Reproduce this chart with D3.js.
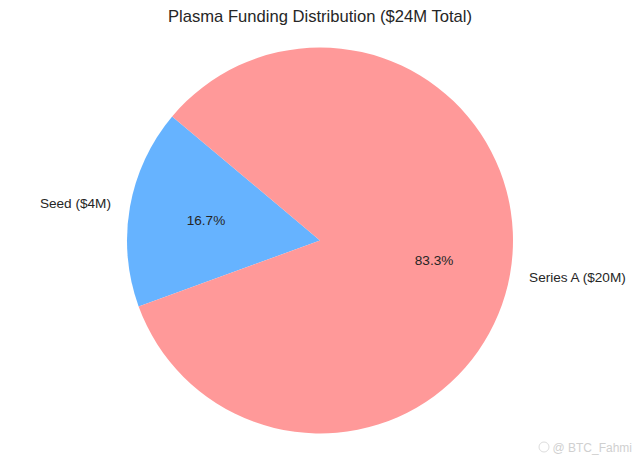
<!DOCTYPE html>
<html><head><meta charset="utf-8">
<script src="https://cdn.jsdelivr.net/npm/d3@7"></script>
<style>body{margin:0;background:#fff}svg{display:block;font-family:"Liberation Sans",Arial,sans-serif}</style>
</head><body><svg id="c" width="640" height="463"></svg>
<script>
const categories = ["Seed ($4M)", "Series A ($20M)"];
const values = [4, 20];
const colors = ["#66b3ff", "#ff9999"];
const title = "Plasma Funding Distribution ($24M Total)";

const svg = d3.select("#c");
const cx = 320, cy = 240.5, R = 193;
const startDeg = 140;
const total = d3.sum(values);
const pie = d3.pie().sort(null).value(d => d)
  .startAngle(-(startDeg - 90) * Math.PI / 180)
  .endAngle(-(startDeg - 90 + 360) * Math.PI / 180);
const arcs = pie(values);
const arc = d3.arc().innerRadius(0).outerRadius(R);
const g = svg.append("g").attr("transform", `translate(${cx},${cy})`);
g.selectAll("path").data(arcs).join("path")
  .attr("d", arc).attr("fill", (d, i) => colors[i]);

function mid(d) { return (d.startAngle + d.endAngle) / 2; }
arcs.forEach((d, i) => {
  const a = mid(d);
  const lx = Math.sin(a) * R * 1.1, ly = -Math.cos(a) * R * 1.1;
  g.append("text").attr("x", lx).attr("y", ly).attr("dy", "0.35em")
    .attr("text-anchor", lx < 0 ? "end" : "start")
    .attr("font-size", 13.6).attr("fill", "#262626").text(categories[i]);
  const px = Math.sin(a) * R * 0.6, py = -Math.cos(a) * R * 0.6;
  g.append("text").attr("x", px).attr("y", py).attr("dy", "0.35em")
    .attr("text-anchor", "middle").attr("font-size", 13.6).attr("fill", "#262626")
    .text((values[i] / total * 100).toFixed(1) + "%");
});

svg.append("text").attr("x", 320).attr("y", 22).attr("text-anchor", "middle")
  .attr("font-size", 16.6).attr("fill", "#262626").text(title);

// watermark
const wm = svg.append("g");
wm.append("circle").attr("cx", 544).attr("cy", 447).attr("r", 5).attr("fill", "none").attr("stroke", "#ddd").attr("stroke-width", 1);
wm.append("text").attr("x", 632).attr("y", 451.5).attr("text-anchor", "end").attr("font-size", 12).attr("fill", "#d0d0d0").text("@ BTC_Fahmi");
</script></body></html>
